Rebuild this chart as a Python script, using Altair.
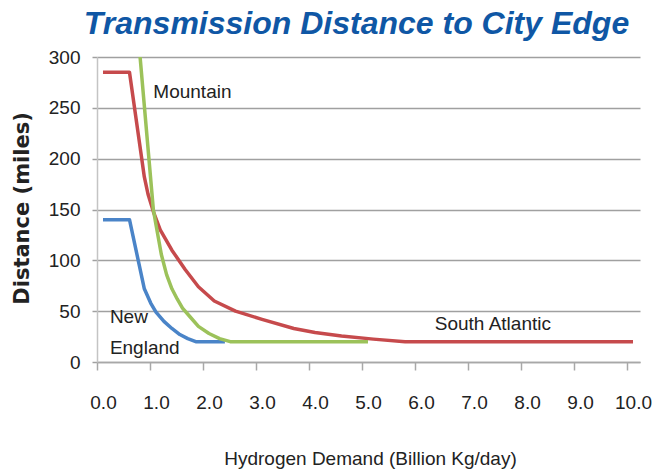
import altair as alt
import pandas as pd

# Hydrogen demand (billion kg/day) vs. transmission distance (miles)
ne_x = [0.0, 0.5, 0.78, 0.9, 1.0, 1.15, 1.3, 1.45, 1.6, 1.75, 2.3]
ne_y = [140, 140, 72, 58, 49, 40, 33, 27, 23, 20, 20]

sa_x = [0.0, 0.5, 0.78, 0.85, 0.95, 1.08, 1.3, 1.55, 1.8, 2.1, 2.5, 3.0, 3.6, 4.0, 4.5, 5.1, 5.7, 10.0]
sa_y = [285, 285, 182, 165, 148, 130, 110, 91, 74, 60, 50, 42, 33, 29, 25.5, 22.5, 20, 20]

mt_x = [0.5, 0.95, 1.0, 1.1, 1.2, 1.3, 1.4, 1.5, 1.65, 1.8, 2.0, 2.2, 2.4, 5.0]
mt_y = [420, 150, 135, 106, 86, 72, 62, 53, 44, 35, 28, 23, 20, 20]

series_names = ["New England", "South Atlantic", "Mountain"]
series_colors = ["#4a84c8", "#c64a4c", "#9cc25a"]

x_ticks = list(range(0, 11))
y_ticks = [0, 50, 100, 150, 200, 250, 300]

LABEL_FONT = "Liberation Sans, Arial, sans-serif"
TEXT_COLOR = "#222222"
X_MIN, X_MAX = -0.113, 10.132

frames = []
for name, xs, ys in [("New England", ne_x, ne_y), ("South Atlantic", sa_x, sa_y), ("Mountain", mt_x, mt_y)]:
    frames.append(pd.DataFrame({"demand": xs, "distance": ys, "region": name}))
df = pd.concat(frames, ignore_index=True)

x_scale = alt.Scale(domain=[X_MIN, X_MAX], nice=False, zero=False)
y_scale = alt.Scale(domain=[0, 300], nice=False)

x_axis = alt.Axis(
    values=[X_MIN + v for v in x_ticks],
    labelExpr="format(round(datum.value), '.1f')",
    labelOffset=6, labelFlush=False,
    labelFont=LABEL_FONT, labelFontSize=19, labelColor=TEXT_COLOR,
    labelPadding=23, tickSize=8, tickColor="#a8a8a8", tickWidth=1.5,
    domainColor="#a8a8a8", domainWidth=1.5, grid=False,
    title="Hydrogen Demand (Billion Kg/day)",
    titleFont=LABEL_FONT, titleFontSize=19, titleFontWeight="normal", titleColor=TEXT_COLOR,
    titleX=273, titleY=96, titleBaseline="middle", titleAlign="center",
)
y_axis = alt.Axis(
    values=y_ticks, format="d",
    labelFont=LABEL_FONT, labelFontSize=19, labelColor=TEXT_COLOR,
    labelPadding=12, tickSize=5, tickColor="#a0a0a0", tickWidth=1.5,
    domainColor="#c4c4c4", domainWidth=1.5,
    grid=True, gridColor="#a0a0a0", gridWidth=1.5,
    title="Distance (miles)",
    titleFont="DejaVu Sans", titleFontSize=21, titleFontWeight="bold", titleColor=TEXT_COLOR,
    titleX=-75, titleY=151, titleAngle=270, titleBaseline="middle", titleAlign="center",
)

base = alt.Chart(df).mark_line(strokeWidth=3.5, clip=True, strokeJoin="round").encode(
    x=alt.X("demand:Q", scale=x_scale, axis=x_axis),
    y=alt.Y("distance:Q", scale=y_scale, axis=y_axis),
    color=alt.Color("region:N", scale=alt.Scale(domain=series_names, range=series_colors), legend=None),
    order=alt.Order("demand:Q"),
)

lines = alt.layer(*[
    base.transform_filter(alt.datum.region == name) for name in series_names
])

# Series labels placed in data coordinates
ann = pd.DataFrame({
    "text": ["Mountain", "New", "England", "South Atlantic"],
    "demand": [0.95, 0.13, 0.13, 6.26],
    "distance": [266, 44, 14, 37],
})
labels = alt.Chart(ann).mark_text(
    align="left", baseline="middle", font=LABEL_FONT, fontSize=19, color=TEXT_COLOR
).encode(
    x=alt.X("demand:Q", scale=x_scale),
    y=alt.Y("distance:Q", scale=y_scale),
    text="text:N",
)

chart = alt.layer(lines, labels).properties(
    width=543, height=305,
    autosize=alt.AutoSizeParams(type="none"),
    padding={"left": 97, "top": 57, "right": 14, "bottom": 113},
    title=alt.TitleParams(
        "Transmission Distance to City Edge",
        font="Liberation Sans, Arial, sans-serif", fontSize=32, fontWeight="bold", fontStyle="italic",
        color="#0f57a5", anchor="middle", dx=-12, offset=7,
    ),
).configure_view(stroke=None)

chart.save("out.html", embed_options={"renderer": "svg", "actions": False})
